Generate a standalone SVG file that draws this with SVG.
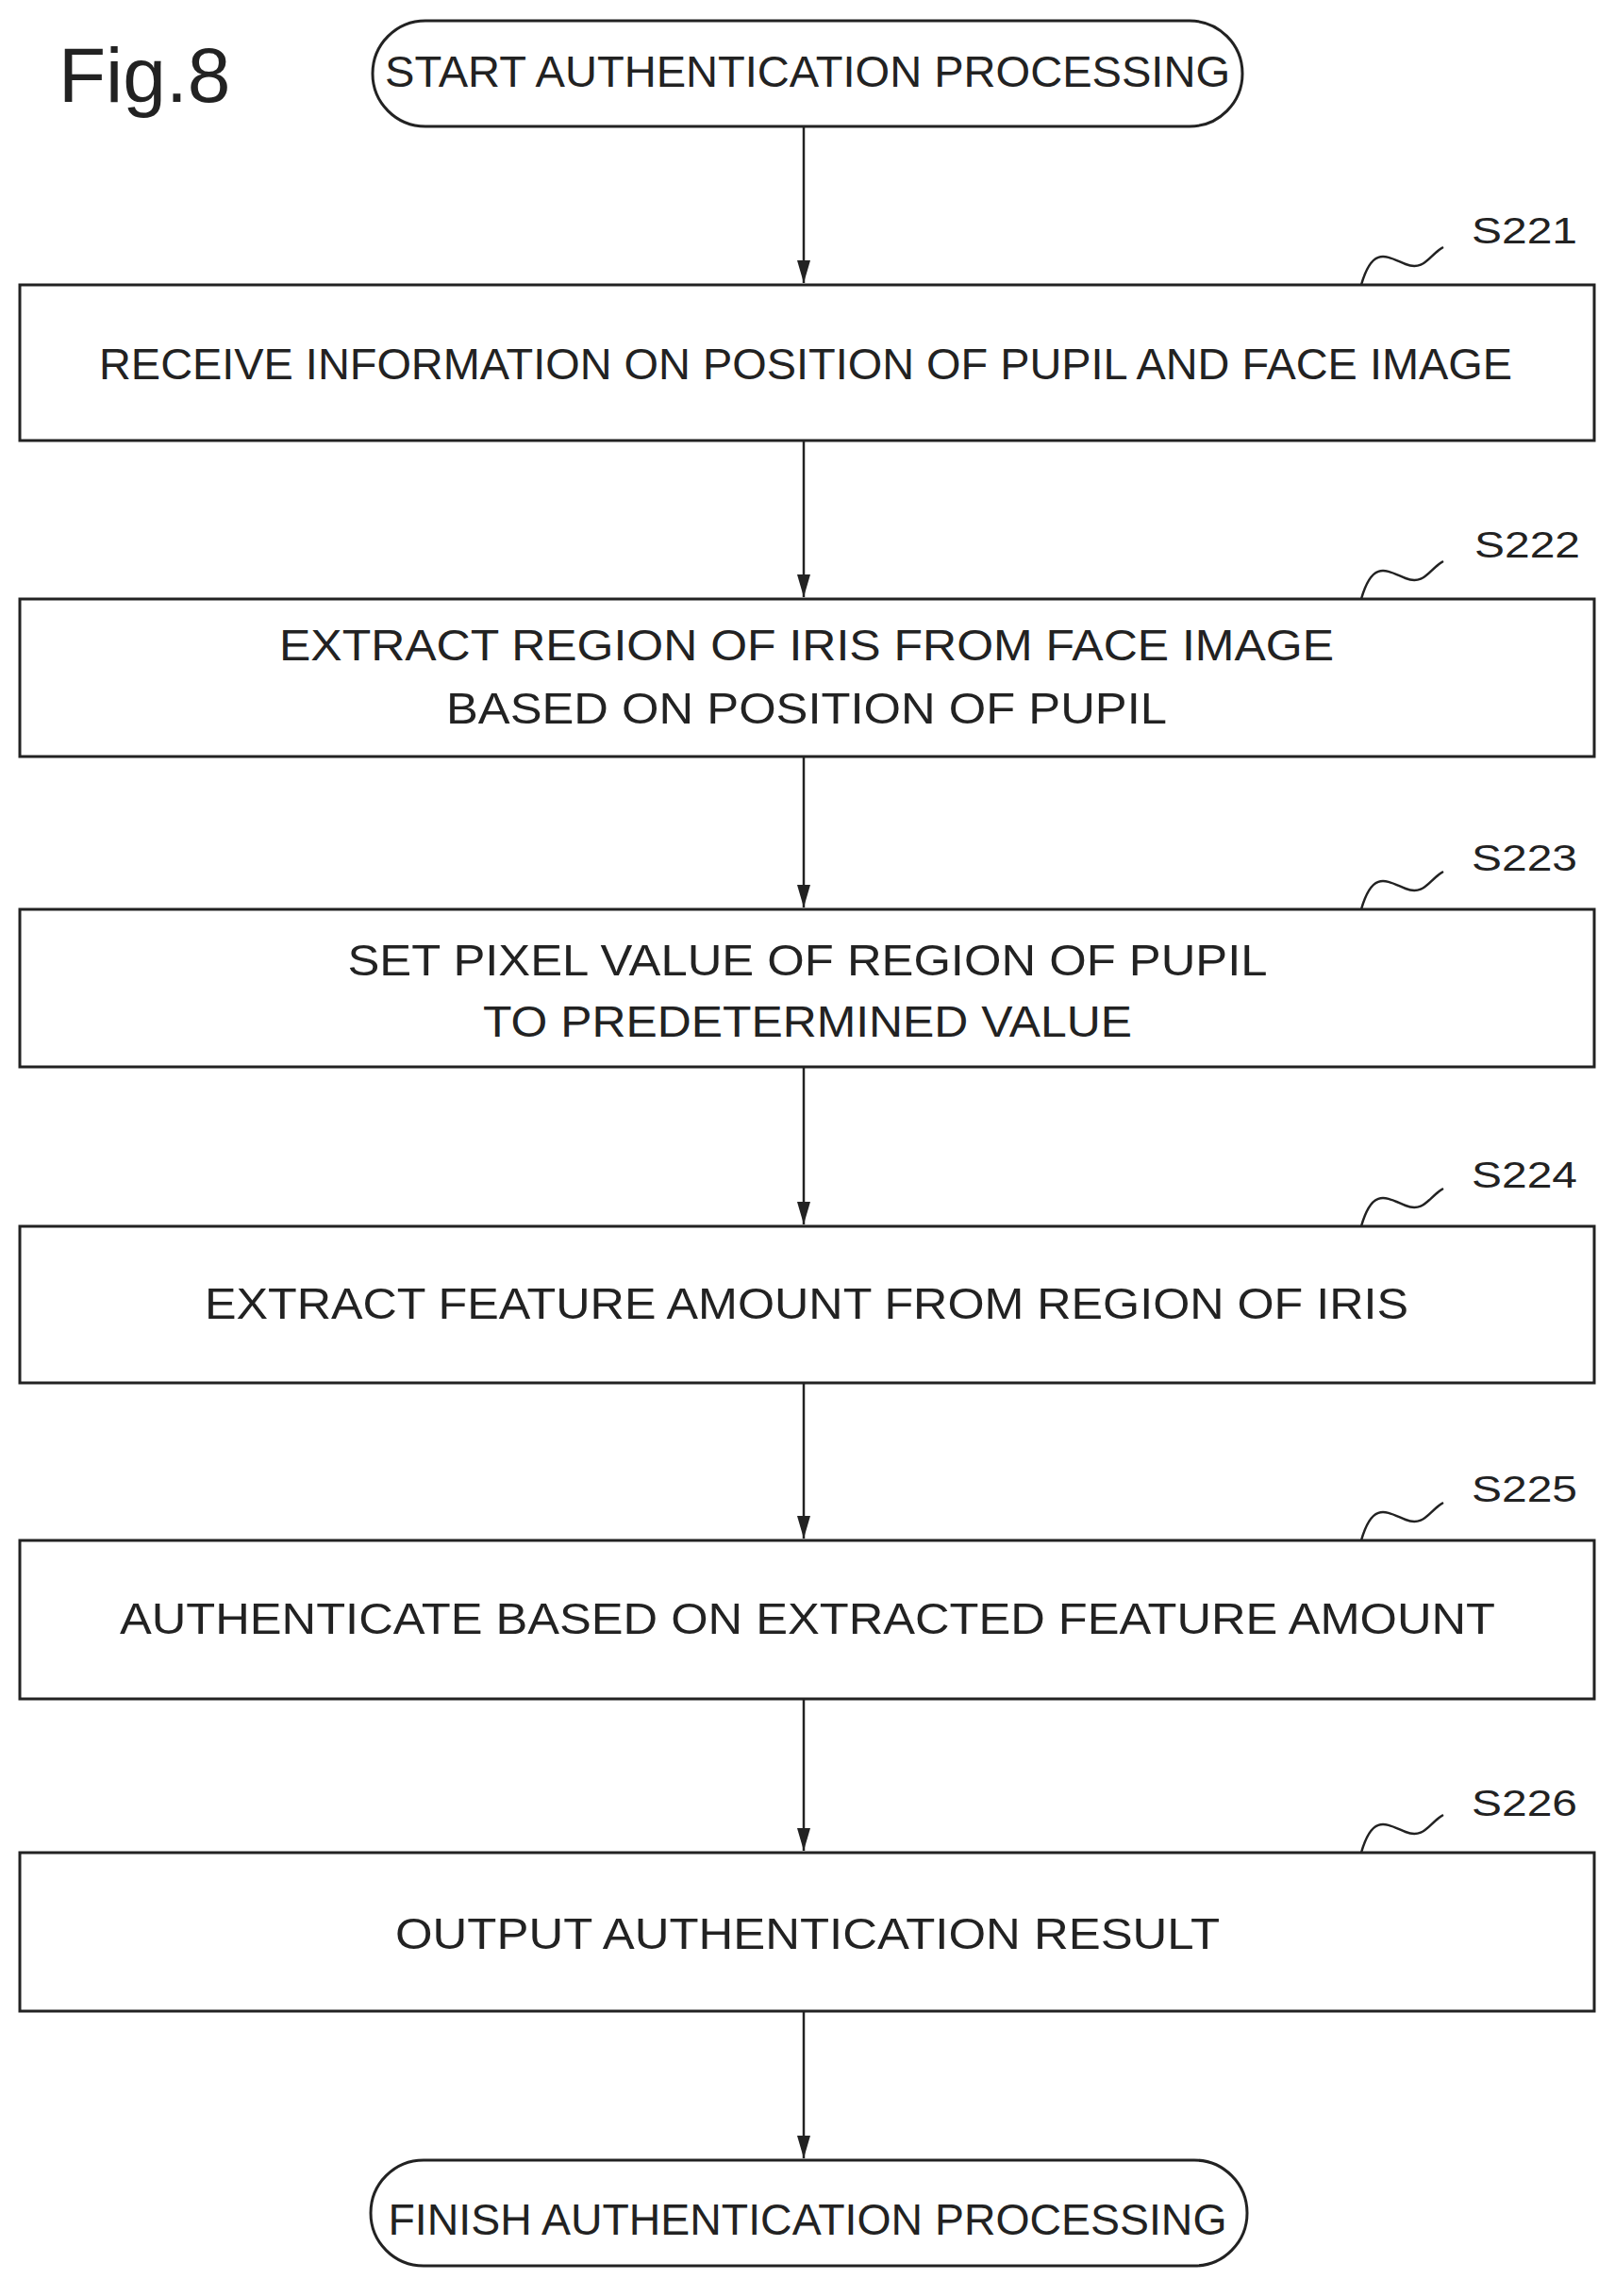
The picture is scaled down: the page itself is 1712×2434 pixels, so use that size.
<svg xmlns="http://www.w3.org/2000/svg" width="1712" height="2434" viewBox="0 0 1712 2434">
<style>
.b{fill:#fff;stroke:#222;stroke-width:3}
.t{font-family:"Liberation Sans",Arial,sans-serif;font-size:46px;fill:#222;text-anchor:middle}
.l{font-family:"Liberation Sans",Arial,sans-serif;font-size:38px;fill:#222}
.c{stroke:#222;stroke-width:2.5;fill:none}
.s{stroke:#222;stroke-width:2.5;fill:none}
</style>
<defs><marker id="a" markerWidth="24" markerHeight="14" refX="24" refY="7" orient="auto" markerUnits="userSpaceOnUse" viewBox="0 0 24 14"><path d="M0,0 L24,7 L0,14 Z" fill="#222"/></marker></defs>
<rect width="1712" height="2434" fill="#fff"/>
<text x="62" y="108" style="font-family:'Liberation Sans',Arial,sans-serif;font-size:82px;fill:#222">Fig.8</text>
<g id="start"><rect class="b" x="395" y="22" width="922" height="112" rx="56"/><text class="t" x="856" y="92" textLength="896" lengthAdjust="spacingAndGlyphs">START AUTHENTICATION PROCESSING</text></g>
<g id="s221"><rect class="b" x="21" y="302" width="1669" height="165"/><text class="t" x="854" y="402" textLength="1498" lengthAdjust="spacingAndGlyphs">RECEIVE INFORMATION ON POSITION OF PUPIL AND FACE IMAGE</text>
<path class="s" d="M1443,302 C1455,260 1470,272 1490,280 C1510,288 1515,270 1530,262"/><text class="l" x="1560" y="258" textLength="112" lengthAdjust="spacingAndGlyphs">S221</text></g>
<g id="s222"><rect class="b" x="21" y="635" width="1669" height="167"/><text class="t" x="855" y="700" textLength="1118" lengthAdjust="spacingAndGlyphs">EXTRACT REGION OF IRIS FROM FACE IMAGE</text><text class="t" x="855" y="767" textLength="764" lengthAdjust="spacingAndGlyphs">BASED ON POSITION OF PUPIL</text>
<path class="s" d="M1443,635 C1455,593 1470,605 1490,613 C1510,621 1515,603 1530,595"/><text class="l" x="1563" y="591" textLength="112" lengthAdjust="spacingAndGlyphs">S222</text></g>
<g id="s223"><rect class="b" x="21" y="964" width="1669" height="167"/><text class="t" x="856" y="1034" textLength="975" lengthAdjust="spacingAndGlyphs">SET PIXEL VALUE OF REGION OF PUPIL</text><text class="t" x="856" y="1099" textLength="688" lengthAdjust="spacingAndGlyphs">TO PREDETERMINED VALUE</text>
<path class="s" d="M1443,964 C1455,922 1470,934 1490,942 C1510,950 1515,932 1530,924"/><text class="l" x="1560" y="923" textLength="112" lengthAdjust="spacingAndGlyphs">S223</text></g>
<g id="s224"><rect class="b" x="21" y="1300" width="1669" height="166"/><text class="t" x="855" y="1398" textLength="1276" lengthAdjust="spacingAndGlyphs">EXTRACT FEATURE AMOUNT FROM REGION OF IRIS</text>
<path class="s" d="M1443,1300 C1455,1258 1470,1270 1490,1278 C1510,1286 1515,1268 1530,1260"/><text class="l" x="1560" y="1259" textLength="112" lengthAdjust="spacingAndGlyphs">S224</text></g>
<g id="s225"><rect class="b" x="21" y="1633" width="1669" height="168"/><text class="t" x="856" y="1732" textLength="1458" lengthAdjust="spacingAndGlyphs">AUTHENTICATE BASED ON EXTRACTED FEATURE AMOUNT</text>
<path class="s" d="M1443,1633 C1455,1591 1470,1603 1490,1611 C1510,1619 1515,1601 1530,1593"/><text class="l" x="1560" y="1592" textLength="112" lengthAdjust="spacingAndGlyphs">S225</text></g>
<g id="s226"><rect class="b" x="21" y="1964" width="1669" height="168"/><text class="t" x="856" y="2066" textLength="874" lengthAdjust="spacingAndGlyphs">OUTPUT AUTHENTICATION RESULT</text>
<path class="s" d="M1443,1964 C1455,1922 1470,1934 1490,1942 C1510,1950 1515,1932 1530,1924"/><text class="l" x="1560" y="1925" textLength="112" lengthAdjust="spacingAndGlyphs">S226</text></g>
<g id="finish"><rect class="b" x="393" y="2290" width="929" height="112" rx="56"/><text class="t" x="856" y="2369" textLength="889" lengthAdjust="spacingAndGlyphs">FINISH AUTHENTICATION PROCESSING</text></g>
<g id="connectors">
<line class="c" x1="852" y1="135" x2="852" y2="300" marker-end="url(#a)"/>
<line class="c" x1="852" y1="468" x2="852" y2="633" marker-end="url(#a)"/>
<line class="c" x1="852" y1="803" x2="852" y2="962" marker-end="url(#a)"/>
<line class="c" x1="852" y1="1132" x2="852" y2="1298" marker-end="url(#a)"/>
<line class="c" x1="852" y1="1467" x2="852" y2="1631" marker-end="url(#a)"/>
<line class="c" x1="852" y1="1802" x2="852" y2="1962" marker-end="url(#a)"/>
<line class="c" x1="852" y1="2133" x2="852" y2="2288" marker-end="url(#a)"/>
</g>
</svg>
